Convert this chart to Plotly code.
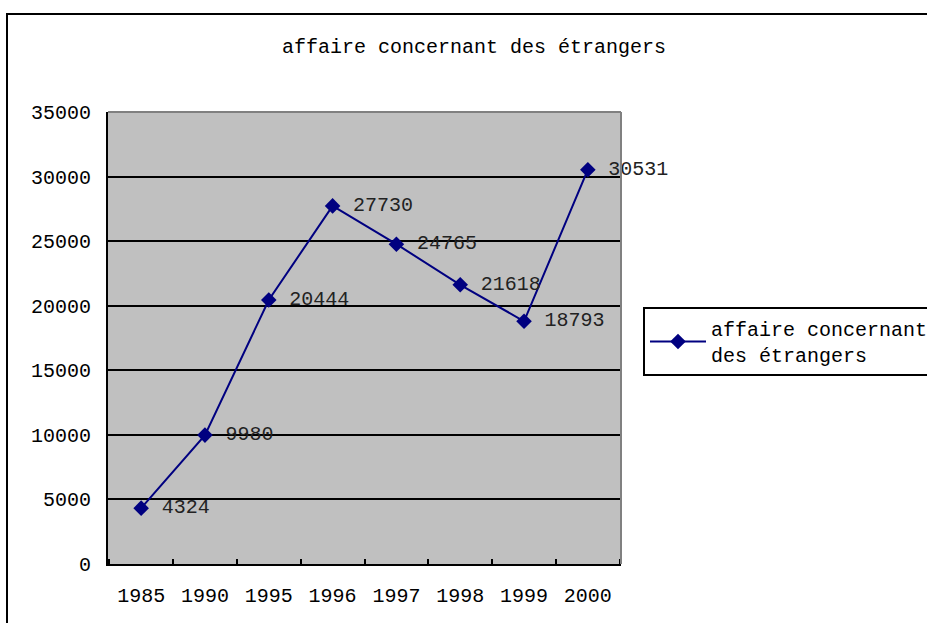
import plotly.graph_objects as go

years = ["1985", "1990", "1995", "1996", "1997", "1998", "1999", "2000"]
values = [4324, 9980, 20444, 27730, 24765, 21618, 18793, 30531]
series_name = "affaire concernant<br>des étrangers"
title_text = "affaire concernant des étrangers"

FONT = "Liberation Mono, DejaVu Sans Mono, monospace"

W, H = 927, 623
L, R, T, B = 108, 621, 112, 564
pw, ph = R - L, B - T

fig = go.Figure()
fig.add_trace(go.Scatter(
    x=years, y=values, name=series_name,
    mode="lines+markers+text",
    text=[" " + str(v) for v in values],
    textposition="middle right",
    textfont=dict(family=FONT, size=20, color="#222222"),
    line=dict(color="#000080", width=2),
    marker=dict(symbol="diamond", size=12, color="#000080"),
    cliponaxis=False,
))

def px_x(x):
    return (x - L) / pw

def px_y(y):
    return (B - y) / ph

fig.update_layout(
    width=W, height=H, autosize=False,
    margin=dict(l=L, r=W - R, t=T, b=H - B, autoexpand=False),
    paper_bgcolor="white",
    plot_bgcolor="#C0C0C0",
    font=dict(family=FONT, size=20, color="black"),
    title=dict(text=title_text, x=474 / W, xanchor="center", xref="container",
               y=1 - 46 / H, yanchor="middle", yref="container",
               font=dict(family=FONT, size=20, color="black")),
    showlegend=True,
    legend=dict(x=px_x(643), y=px_y(307), xanchor="left", yanchor="top",
                bordercolor="black", borderwidth=2, bgcolor="white",
                font=dict(family=FONT, size=20, color="black"),
                itemwidth=56, tracegroupgap=0),
    xaxis=dict(type="category", showline=True, linecolor="black", linewidth=2,
               ticks="inside", ticklen=5, tickcolor="black", tickwidth=2,
               tickson="boundaries", showgrid=False,
               ticklabelstandoff=12,
               tickfont=dict(family=FONT, size=20, color="black")),
    yaxis=dict(range=[0, 35000], dtick=5000, tickformat="d", showline=True,
               linecolor="black",
               linewidth=2, ticks="inside", ticklen=5, tickcolor="black",
               tickwidth=2, showgrid=True, gridcolor="black", gridwidth=2,
               zeroline=False, ticklabelstandoff=11,
               tickfont=dict(family=FONT, size=20, color="black")),
    shapes=[
        dict(type="line", xref="paper", yref="paper", x0=0, x1=1, y0=1, y1=1,
             line=dict(color="#808080", width=2), layer="above"),
        dict(type="line", xref="paper", yref="paper", x0=1, x1=1, y0=0, y1=1,
             line=dict(color="#808080", width=2), layer="above"),
        dict(type="rect", xref="paper", yref="paper",
             x0=px_x(7), x1=px_x(940), y0=px_y(640), y1=px_y(14),
             line=dict(color="black", width=2), layer="below"),
    ],
)

fig.write_html(
    "out.html",
    config={"responsive": False, "displayModeBar": False},
    post_script="document.body.style.margin='0';document.body.style.overflow='hidden';",
)
